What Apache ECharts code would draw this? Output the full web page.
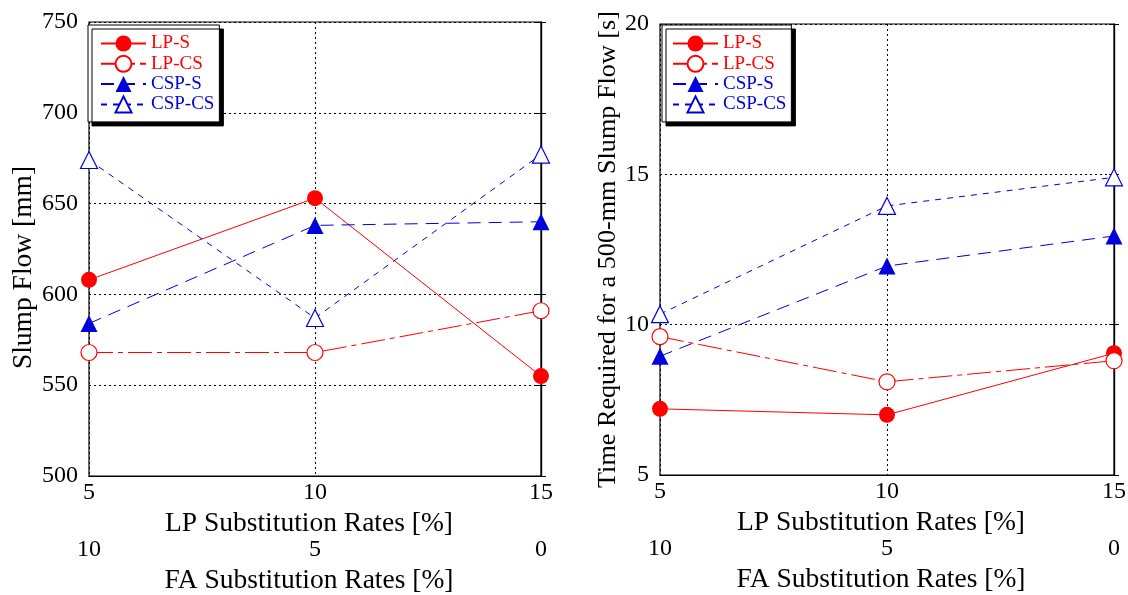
<!DOCTYPE html>
<html><head><meta charset="utf-8">
<script src="https://cdn.jsdelivr.net/npm/echarts@6/dist/echarts.min.js"></script>
<style>html,body{margin:0;padding:0;background:#fff}#c{width:1128px;height:595px}</style>
</head><body><div id="c"></div>
<script>
const lpRates = [5, 10, 15];
const faRates = [10, 5, 0];
const seriesNames = ['LP-S', 'LP-CS', 'CSP-S', 'CSP-CS'];
const slumpLPS = [608, 653, 555];
const slumpLPCS = [568, 568, 591];
const slumpCSPS = [584, 638, 640];
const slumpCSPCS = [674, 587, 677];
const timeLPS = [7.2, 7.0, 9.05];
const timeLPCS = [9.6, 8.1, 8.8];
const timeCSPS = [8.95, 11.95, 12.95];
const timeCSPCS = [10.35, 13.95, 14.9];
const leftTitle = 'Slump Flow [mm]';
const rightTitle = 'Time Required for a 500-mm Slump Flow [s]';
const xTitle = 'LP Substitution Rates [%]';
const x2Title = 'FA Substitution Rates [%]';

const FONT = 'Liberation Serif';
const RED = '#ff0000', BLUE = '#0000dd';
const TICK_FS = 24, XNAME_FS = 27.5;
const styles = {
  'LP-S':   {color: RED, fill: RED, symbol: 'circle', type: 'solid'},
  'LP-CS':  {color: RED, fill: '#fff', symbol: 'circle', type: [24, 5, 5, 5]},
  'CSP-S':  {color: BLUE, fill: BLUE, symbol: 'triangle', type: [13, 8]},
  'CSP-CS': {color: BLUE, fill: '#fff', symbol: 'triangle', type: [6, 6]}
};
const pair = (xs, ys) => xs.map((x, i) => [x, ys[i]]);

function mkSeries(name, ys, xi, yi) {
  const s = styles[name];
  return {
    name, type: 'line', xAxisIndex: xi, yAxisIndex: yi,
    data: pair(lpRates, ys),
    symbol: s.symbol, symbolSize: s.symbol === 'circle' ? 16 : 17,
    showAllSymbol: true,
    lineStyle: {color: s.color, width: 1, type: s.type},
    itemStyle: {color: s.fill, borderColor: s.color, borderWidth: s.fill === '#fff' ? 1.2 : 0},
    emphasis: {disabled: true},
    z: 3
  };
}

function mkX(gi, main) {
  const nameStyle = {color: '#000', fontFamily: FONT, fontSize: XNAME_FS, padding: [0, 12, 0, 0]};
  if (main) {
    return {
      gridIndex: gi, type: 'value', min: 5, max: 15, interval: 5, position: 'bottom',
      axisLine: {show: true, lineStyle: {color: '#000', width: 1.2}},
      axisTick: {show: false},
      axisLabel: {color: '#000', fontFamily: FONT, fontSize: TICK_FS, margin: 5},
      splitLine: {show: true, lineStyle: {color: '#000', type: [2, 3], width: 1}},
      name: xTitle, nameLocation: 'middle', nameGap: 32, nameTextStyle: nameStyle
    };
  }
  return {
    gridIndex: gi, type: 'value', min: 0, max: 10, interval: 5, inverse: true, position: 'bottom', offset: 56,
    axisLine: {show: false}, axisTick: {show: false}, splitLine: {show: false},
    axisLabel: {color: '#000', fontFamily: FONT, fontSize: TICK_FS, margin: 6},
    name: x2Title, nameLocation: 'middle', nameGap: 32, nameTextStyle: nameStyle
  };
}

function mkY(gi, min, max, interval, title, gap, fs, pad, main) {
  if (main) {
    return {
      gridIndex: gi, type: 'value', min, max, interval, position: 'left',
      axisLine: {show: true, lineStyle: {color: '#000', width: 1.2}},
      axisTick: {show: true, inside: true, length: 5, lineStyle: {color: '#000'}},
      axisLabel: {color: '#000', fontFamily: FONT, fontSize: TICK_FS, margin: 11},
      splitLine: {show: true, lineStyle: {color: '#000', type: [2, 3], width: 1}},
      name: title, nameLocation: 'middle', nameGap: gap,
      nameTextStyle: {color: '#000', fontFamily: FONT, fontSize: fs, padding: pad}
    };
  }
  return {
    gridIndex: gi, type: 'value', min, max, interval, position: 'right',
    axisLine: {show: true, lineStyle: {color: '#000', width: 1.2}},
    axisTick: {show: true, inside: true, length: 5, lineStyle: {color: '#000'}},
    axisLabel: {show: false}, splitLine: {show: false}
  };
}

function mkLegend(left, top, padLeft) {
  return {
    left, top, orient: 'vertical', itemWidth: 45, itemHeight: 20, itemGap: 1.3,
    padding: [9, 5, 8, padLeft],
    backgroundColor: '#fff', borderColor: '#000', borderWidth: 1,
    shadowColor: '#000', shadowBlur: 0, shadowOffsetX: 4, shadowOffsetY: 4,
    selectedMode: false,
    data: seriesNames.map(n => ({name: n, textStyle: {color: styles[n].color}})),
    textStyle: {fontFamily: FONT, fontSize: 19}
  };
}

const chart = echarts.init(document.getElementById('c'), null, {renderer: 'canvas'});
chart.setOption({
  animation: false,
  backgroundColor: '#fff',
  grid: [
    {left: 89, right: 1128 - 541, top: 22, bottom: 595 - 476, show: true, borderColor: '#000', borderWidth: 1.2, outerBoundsMode: 'none', containLabel: false},
    {left: 660, right: 1128 - 1114, top: 24, bottom: 595 - 475, show: true, borderColor: '#000', borderWidth: 1.2, outerBoundsMode: 'none', containLabel: false}
  ],
  legend: [mkLegend(88, 25, 12), mkLegend(662, 25, 10)],
  xAxis: [mkX(0, true), mkX(0, false), mkX(1, true), mkX(1, false)],
  yAxis: [
    mkY(0, 500, 750, 50, leftTitle, 51, 27.5, [0, 37, 0, 0], true),
    mkY(0, 500, 750, 50, '', 0, 0, 0, false),
    mkY(1, 5, 20, 5, rightTitle, 36, 26.2, [0, 0, 0, 0], true),
    mkY(1, 5, 20, 5, '', 0, 0, 0, false)
  ],
  series: [
    mkSeries('LP-S', slumpLPS, 0, 0),
    mkSeries('LP-CS', slumpLPCS, 0, 0),
    mkSeries('CSP-S', slumpCSPS, 0, 0),
    mkSeries('CSP-CS', slumpCSPCS, 0, 0),
    mkSeries('LP-S', timeLPS, 2, 2),
    mkSeries('LP-CS', timeLPCS, 2, 2),
    mkSeries('CSP-S', timeCSPS, 2, 2),
    mkSeries('CSP-CS', timeCSPCS, 2, 2)
  ]
});
</script></body></html>
